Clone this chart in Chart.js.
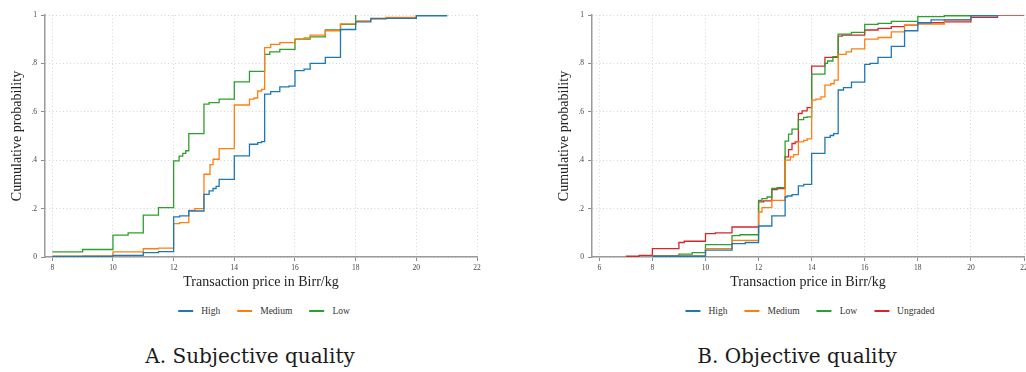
<!DOCTYPE html>
<html>
<head>
<meta charset="utf-8">
<script src="https://cdn.jsdelivr.net/npm/chart.js@4.4.0/dist/chart.umd.min.js"></script>
<style>
html, body { margin: 0; padding: 0; background: #fff; overflow: hidden; }
#wrap { position: relative; width: 1026px; height: 372px; overflow: hidden; }
canvas { position: absolute; top: 0; }
#chartA { left: 0; }
#chartB { left: 547px; }
.legend { position: absolute; top: 306px; display: flex; align-items: center; transform: translateX(-50%);
  font-family: "Liberation Serif", serif; font-size: 9.5px; color: #333; white-space: nowrap; }
.legend .sw { display: inline-block; width: 15px; height: 1.4px; margin-right: 8px; }
.legend .item { display: flex; align-items: center; margin-right: 17px; }
.legend .item:last-child { margin-right: 0; }
.cap { position: absolute; top: 345px; transform: translateX(-50%); white-space: nowrap;
  font-family: "DejaVu Serif", serif; font-size: 20px; line-height: 22px; color: #1a1a1a; }
</style>
</head>
<body>
<div id="wrap">
  <canvas id="chartA" width="500" height="293"></canvas>
  <canvas id="chartB" width="500" height="293"></canvas>
  <div class="legend" id="legendA" style="left:264px"></div>
  <div class="legend" id="legendB" style="left:810px"></div>
  <div class="cap" style="left:250px">A. Subjective quality</div>
  <div class="cap" style="left:797px">B. Objective quality</div>
</div>
<script>
// Panel A: subjective quality (price in Birr/kg, cumulative probability)
const priceA_high = [8, 10, 11, 11.5, 12, 12.2, 12.5, 13, 13.17, 13.3, 13.4, 13.5, 14, 14.5, 14.77, 14.9, 15, 15.2, 15.5, 15.8, 16, 16.3, 16.5, 17, 17.5, 18, 18.5, 20, 21];
const cdfA_high   = [0.002, 0.007, 0.018, 0.022, 0.166, 0.17, 0.19, 0.259, 0.273, 0.283, 0.292, 0.321, 0.418, 0.466, 0.473, 0.477, 0.673, 0.683, 0.703, 0.706, 0.77, 0.776, 0.8, 0.825, 0.94, 0.972, 0.986, 0.997, 1.0];

const priceA_medium = [8, 9, 10, 11, 11.5, 12, 12.2, 12.5, 12.7, 13, 13.2, 13.3, 13.5, 14, 14.5, 14.65, 14.77, 14.9, 15, 15.2, 15.5, 16, 16.3, 16.5, 17, 17.5, 18, 18.5, 19, 20];
const cdfA_medium   = [0.003, 0.005, 0.021, 0.034, 0.037, 0.138, 0.142, 0.193, 0.2, 0.342, 0.382, 0.404, 0.448, 0.628, 0.652, 0.657, 0.686, 0.693, 0.865, 0.879, 0.886, 0.9, 0.905, 0.917, 0.935, 0.963, 0.976, 0.983, 0.99, 1.0];

const priceA_low = [8, 9, 10, 10.5, 11, 11.5, 12, 12.18, 12.3, 12.4, 12.5, 13, 13.17, 13.5, 14, 14.5, 15, 15.17, 15.5, 16, 16.5, 17, 17.5, 18];
const cdfA_low   = [0.021, 0.031, 0.09, 0.1, 0.173, 0.204, 0.397, 0.417, 0.428, 0.439, 0.51, 0.632, 0.638, 0.652, 0.724, 0.767, 0.837, 0.848, 0.858, 0.9, 0.91, 0.938, 0.961, 1.0];

// Panel B: objective quality
const priceB_high = [8, 10, 11, 11.5, 12, 12.5, 13, 13.07, 13.26, 13.5, 13.7, 14, 14.5, 14.7, 14.83, 15, 15.2, 15.5, 16, 16.2, 16.5, 17, 17.5, 18, 18.5, 20, 21];
const cdfB_high   = [0.003, 0.028, 0.055, 0.06, 0.128, 0.17, 0.248, 0.252, 0.258, 0.294, 0.3, 0.428, 0.494, 0.502, 0.51, 0.69, 0.7, 0.723, 0.796, 0.8, 0.825, 0.87, 0.935, 0.968, 0.98, 0.997, 1.0];

const priceB_medium = [8, 10, 11, 12, 12.13, 12.5, 13, 13.2, 13.32, 13.5, 13.7, 13.83, 14, 14.16, 14.35, 14.5, 14.72, 14.85, 15, 15.3, 15.5, 16, 16.5, 17, 17.5, 18, 19, 20];
const cdfB_medium   = [0.005, 0.035, 0.069, 0.186, 0.204, 0.234, 0.4, 0.414, 0.423, 0.476, 0.482, 0.488, 0.648, 0.652, 0.662, 0.71, 0.716, 0.731, 0.837, 0.848, 0.86, 0.9, 0.907, 0.93, 0.957, 0.962, 0.98, 1.0];

const priceB_low = [8, 9, 9.5, 10, 11, 11.3, 12, 12.13, 12.32, 12.5, 12.7, 13, 13.13, 13.26, 13.5, 13.7, 13.83, 14, 14.5, 14.6, 14.8, 15, 15.5, 16, 16.5, 17, 18, 19, 20];
const cdfB_low   = [0.006, 0.012, 0.018, 0.051, 0.088, 0.092, 0.234, 0.241, 0.248, 0.283, 0.287, 0.479, 0.508, 0.528, 0.568, 0.577, 0.579, 0.756, 0.8, 0.81, 0.828, 0.921, 0.928, 0.961, 0.965, 0.974, 0.993, 0.997, 1.0];

const priceB_ungraded = [7, 7.5, 8, 9, 9.2, 10, 10.37, 11, 12, 12.19, 12.5, 12.7, 13, 13.13, 13.26, 13.38, 13.5, 13.64, 13.83, 14, 14.5, 15, 15.15, 16, 16.5, 17, 17.5, 18, 19, 20, 21, 22];
const cdfB_ungraded   = [0.003, 0.007, 0.035, 0.06, 0.065, 0.097, 0.1, 0.124, 0.228, 0.232, 0.279, 0.283, 0.414, 0.444, 0.469, 0.476, 0.593, 0.604, 0.617, 0.789, 0.825, 0.913, 0.917, 0.938, 0.945, 0.952, 0.958, 0.968, 0.972, 0.99, 1.0, 1.0];

const seriesNames  = ['High', 'Medium', 'Low', 'Ungraded'];
const seriesColors = ['#1f77b4', '#ff7f0e', '#2ca02c', '#d62728'];

const xTicksA = [8, 10, 12, 14, 16, 18, 20, 22];
const xTicksB = [6, 8, 10, 12, 14, 16, 18, 20, 22];
const yTickValues = [0, 0.2, 0.4, 0.6, 0.8, 1];
const yTickLabels = ['0', '.2', '.4', '.6', '.8', '1'];

const serif = '"Liberation Serif", "Times New Roman", serif';

function toPoints(xs, ys) {
    return xs.map((x, i) => ({ x: x, y: ys[i] }));
}

function makeDataset(idx, xs, ys) {
    return {
        label: seriesNames[idx],
        data: toPoints(xs, ys),
        borderColor: seriesColors[idx],
        backgroundColor: seriesColors[idx],
        borderWidth: 1.3,
        pointRadius: 0,
        stepped: 'before',
        fill: false
    };
}

// shared axis styling for both panels
function makeOptions(xMin, xTicks) {
    return {
        responsive: false,
        animation: false,
        devicePixelRatio: 1,
        layout: { padding: { top: 15, right: 23, bottom: 0, left: 0 } },
        plugins: { legend: { display: false }, tooltip: { enabled: false } },
        scales: {
            x: {
                type: 'linear',
                min: xMin,
                max: 22,
                afterBuildTicks: (scale) => { scale.ticks = xTicks.map(v => ({ value: v })); },
                afterFit: (scale) => { scale.height = 36; },
                ticks: { font: { family: serif, size: 7.5 }, color: '#444', padding: 3, maxRotation: 0, autoSkip: false,
                    callback: (v) => String(v) },
                grid: { color: '#d6d6d6', lineWidth: 1, tickLength: 4, tickColor: '#8c8c8c', tickWidth: 1 },
                border: { color: '#9a9a9a', width: 1.5, dash: [1, 2.5] },
                title: { display: true, text: 'Transaction price in Birr/kg', color: '#222',
                    font: { family: serif, size: 14 }, padding: { top: 0, bottom: 2 } }
            },
            y: {
                min: 0,
                max: 1,
                afterBuildTicks: (scale) => { scale.ticks = yTickValues.map(v => ({ value: v })); },
                afterFit: (scale) => { scale.width = 45; },
                ticks: { font: { family: serif, size: 7.5 }, color: '#444', padding: 4, autoSkip: false,
                    callback: (v) => yTickLabels[yTickValues.indexOf(v)] },
                grid: { color: '#d6d6d6', lineWidth: 1, tickLength: 4, tickColor: '#8c8c8c', tickWidth: 1 },
                border: { color: '#9a9a9a', width: 1.5, dash: [1, 2.5] },
                title: { display: true, text: 'Cumulative probability', color: '#222',
                    font: { family: serif, size: 14 }, padding: { top: 9, bottom: 0 } }
            }
        }
    };
}

new Chart(document.getElementById('chartA').getContext('2d'), {
    type: 'line',
    data: {
        datasets: [
            makeDataset(0, priceA_high, cdfA_high),
            makeDataset(1, priceA_medium, cdfA_medium),
            makeDataset(2, priceA_low, cdfA_low)
        ]
    },
    options: makeOptions(7.76, xTicksA)
});

new Chart(document.getElementById('chartB').getContext('2d'), {
    type: 'line',
    data: {
        datasets: [
            makeDataset(0, priceB_high, cdfB_high),
            makeDataset(1, priceB_medium, cdfB_medium),
            makeDataset(2, priceB_low, cdfB_low),
            makeDataset(3, priceB_ungraded, cdfB_ungraded)
        ]
    },
    options: makeOptions(5.725, xTicksB)
});

// legends below each panel
function buildLegend(id, count) {
    const el = document.getElementById(id);
    for (let i = 0; i < count; i++) {
        const item = document.createElement('span');
        item.className = 'item';
        item.innerHTML = '<span class="sw" style="background:' + seriesColors[i] + '"></span>' + seriesNames[i];
        el.appendChild(item);
    }
}
buildLegend('legendA', 3);
buildLegend('legendB', 4);
</script>
</body>
</html>
